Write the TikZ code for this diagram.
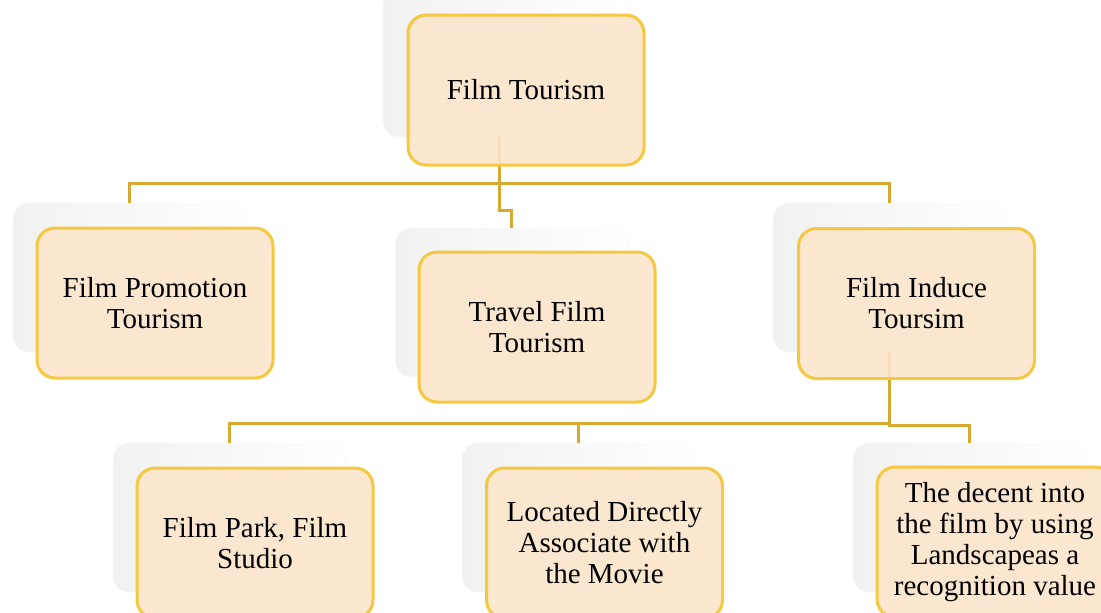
\documentclass[tikz,border=0pt]{standalone}
\usepackage{fontspec}
\setmainfont{Liberation Serif}
\definecolor{peach}{RGB}{252,229,203}
\definecolor{goldborder}{RGB}{245,200,66}
\definecolor{goldline}{RGB}{214,170,48}
\begin{document}
\begin{tikzpicture}[x=1pt,y=-1pt,
  shadowbox/.style={rectangle, rounded corners=16pt, minimum width=232pt, minimum height=149pt,
    left color=gray!11, right color=white, draw=gray!5, line width=0.6pt, inner sep=0pt},
  mainbox/.style={rectangle, rounded corners=18pt, minimum width=236pt, minimum height=150pt,
    fill=peach, fill opacity=0.9, text opacity=1, draw=goldborder, line width=3pt, align=center,
    font=\fontsize{29}{31}\selectfont, inner sep=2pt},
  conn/.style={draw=goldline, line width=3pt}]
\useasboundingbox (0,0) rectangle (1101,613);
% shadows
\node[shadowbox] (s0) at (499,62.5) {};
\node[shadowbox] (s1) at (129,277.5) {};
\node[shadowbox] (s2) at (511.5,302.5) {};
\node[shadowbox] (s3) at (889,277.5) {};
\node[shadowbox] (s4) at (229,517.5) {};
\node[shadowbox] (s5) at (578,517.5) {};
\node[shadowbox] (s6) at (969,517.5) {};
% connectors
\draw[conn] (s0.south) -- ++(0,46) -| (s1.north);
\draw[conn] (s0.south) -- ++(0,46) -| (s3.north);
\draw[conn] (s0.south) -- ++(0,73) -| (s2.north);
\draw[conn] (s3.south) -- ++(0,71) -| (s4.north);
\draw[conn] (s3.south) -- ++(0,71) -| (s5.north);
\draw[conn] (s3.south) -- ++(0,73) -| (s6.north);
% boxes
\node[mainbox] (b0) at (526,90) {Film Tourism};
\node[mainbox] (b1) at (155,303) {Film Promotion\\Tourism};
\node[mainbox] (b2) at (537,327) {Travel Film\\Tourism};
\node[mainbox] (b3) at (916.5,303.5) {Film Induce\\Toursim};
\node[mainbox] (b4) at (255,543) {Film Park, Film\\Studio};
\node[mainbox] (b5) at (604.5,543) {Located Directly\\Associate with\\the Movie};
\node[mainbox] (b6) at (995,542) {The decent into\\the film by using\\Landscapeas a\\recognition value};
\end{tikzpicture}
\end{document}
